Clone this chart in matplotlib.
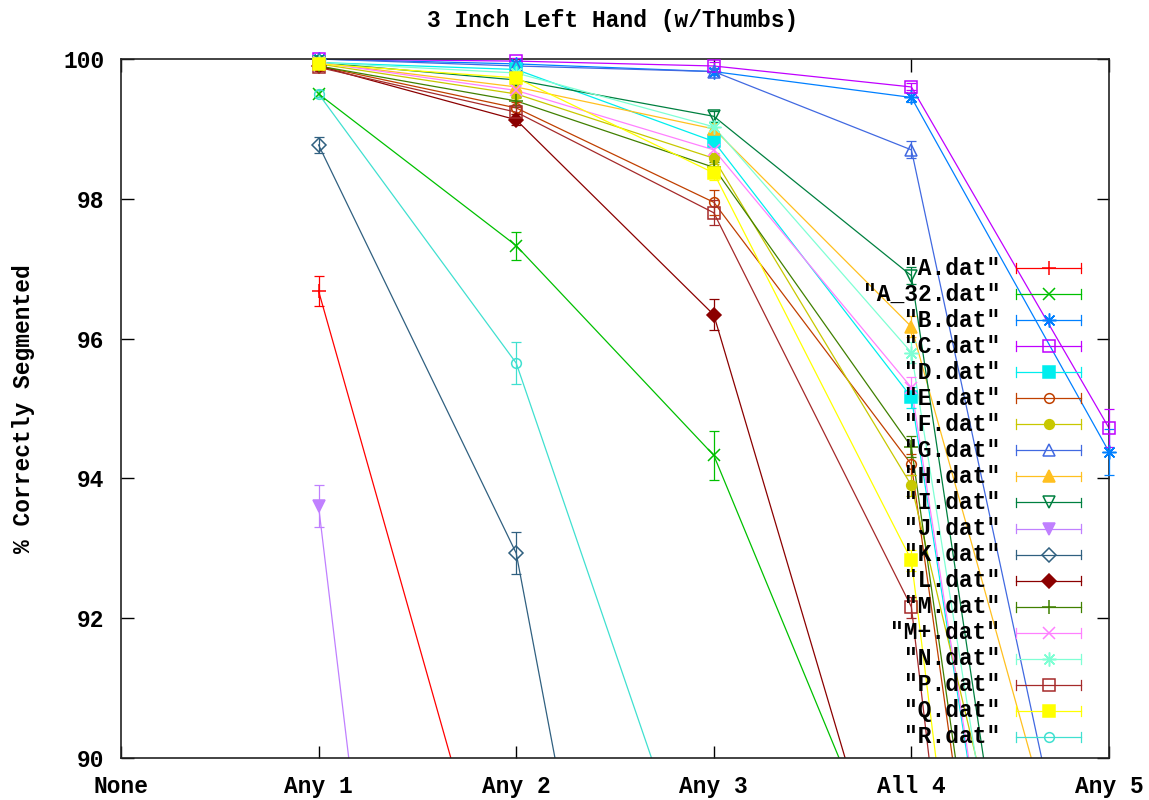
import numpy as np
import matplotlib
matplotlib.use("Agg")
import matplotlib.pyplot as plt

categories = ["None", "Any 1", "Any 2", "Any 3", "All 4", "Any 5"]
x_pos = [1, 2, 3, 4, 5]

names = ['"A.dat"', '"A_32.dat"', '"B.dat"', '"C.dat"', '"D.dat"', '"E.dat"',
         '"F.dat"', '"G.dat"', '"H.dat"', '"I.dat"', '"J.dat"', '"K.dat"',
         '"L.dat"', '"M.dat"', '"M+.dat"', '"N.dat"', '"P.dat"', '"Q.dat"', '"R.dat"']

A    = [96.68, 86.70, 75.00, 62.00, 50.00]
A_32 = [99.50, 97.33, 94.33, 87.50, 78.00]
B    = [100.0, 99.93, 99.82, 99.45, 94.38]
C    = [100.0, 99.97, 99.90, 99.60, 94.72]
D    = [99.95, 99.85, 98.82, 95.16, 77.00]
E    = [99.90, 99.30, 97.95, 94.20, 74.00]
F    = [99.93, 99.50, 98.58, 93.90, 82.00]
G    = [100.0, 99.90, 99.82, 98.70, 85.50]
H    = [99.95, 99.60, 99.00, 96.17, 86.00]
I    = [99.95, 99.70, 99.18, 96.90, 78.00]
J    = [93.60, 70.00, 55.00, 45.00, 35.00]
K    = [98.77, 92.93, 78.00, 65.00, 55.00]
L    = [99.90, 99.13, 96.34, 86.80, 75.00]
M    = [99.90, 99.40, 98.45, 94.45, 74.50]
Mp   = [99.95, 99.55, 98.70, 95.30, 77.00]
N    = [99.95, 99.80, 99.03, 95.80, 78.00]
P    = [99.88, 99.24, 97.80, 92.16, 68.00]
Q    = [99.93, 99.73, 98.37, 92.83, 70.00]
R    = [99.50, 95.65, 87.40, 75.00, 65.00]

A_err    = [0.22, 0.3, 0.3, 0.3, 0.3]
A_32_err = [0.05, 0.20, 0.35, 0.3, 0.3]
B_err    = [0.03, 0.04, 0.05, 0.06, 0.33]
C_err    = [0.03, 0.04, 0.05, 0.05, 0.27]
D_err    = [0.04, 0.05, 0.08, 0.15, 0.3]
E_err    = [0.05, 0.08, 0.18, 0.15, 0.3]
F_err    = [0.04, 0.06, 0.08, 0.15, 0.3]
G_err    = [0.05, 0.04, 0.05, 0.12, 0.3]
H_err    = [0.04, 0.06, 0.08, 0.15, 0.3]
I_err    = [0.04, 0.06, 0.08, 0.12, 0.3]
J_err    = [0.30, 0.3, 0.3, 0.3, 0.3]
K_err    = [0.12, 0.30, 0.3, 0.3, 0.3]
L_err    = [0.05, 0.08, 0.22, 0.3, 0.3]
M_err    = [0.04, 0.06, 0.08, 0.15, 0.3]
Mp_err   = [0.04, 0.06, 0.08, 0.15, 0.3]
N_err    = [0.04, 0.05, 0.08, 0.15, 0.3]
P_err    = [0.05, 0.08, 0.18, 0.15, 0.3]
Q_err    = [0.04, 0.06, 0.10, 0.15, 0.3]
R_err    = [0.05, 0.30, 0.3, 0.3, 0.3]

series = [A, A_32, B, C, D, E, F, G, H, I, J, K, L, M, Mp, N, P, Q, R]
errors = [A_err, A_32_err, B_err, C_err, D_err, E_err, F_err, G_err, H_err, I_err,
          J_err, K_err, L_err, M_err, Mp_err, N_err, P_err, Q_err, R_err]

colors = ["#ff0000", "#00c000", "#0080ff", "#c000ff", "#00eeee", "#c04000",
          "#c8c800", "#4169e1", "#ffc020", "#008040", "#c080ff", "#306080",
          "#8b0000", "#408000", "#ff80ff", "#7fffd4", "#a52a2a", "#ffff00", "#40e0d0"]

star = (8, 2, 0)
# (marker, filled)
mstyles = [("+", True), ("x", True), (star, True), ("s", False), ("s", True),
           ("o", False), ("o", True), ("^", False), ("^", True), ("v", False),
           ("v", True), ("D", False), ("D", True), ("+", True), ("x", True),
           (star, True), ("s", False), ("s", True), ("o", False)]
msizes = {"+": 10, "x": 9, "s": 8, "o": 7, "^": 8, "v": 8, "D": 7}

FONT = dict(family="Liberation Mono", weight="bold", size=16.5)

fig = plt.figure(figsize=(11.49, 8.0), dpi=100)
ax = fig.add_axes([121/1149, 42/800, 988/1149, 699/800])

for ys, es, col, (mk, filled) in zip(series, errors, colors, mstyles):
    xs = np.array(x_pos, dtype=float)
    ys = np.array(ys)
    es = np.array(es)
    ax.plot(xs, ys, color=col, lw=0.9, zorder=2)
    mask = (ys >= 90) & (ys <= 100.01)
    ms = msizes.get(mk, 10) if isinstance(mk, str) else 10
    cont = ax.errorbar(xs[mask], ys[mask], yerr=es[mask], fmt="none", ecolor=col,
                       elinewidth=0.9, capsize=3.5, capthick=0.9, zorder=3)
    for art in cont.lines[1] + cont.lines[2]:
        art.set_clip_on(False)
    ax.plot(xs[mask], ys[mask], linestyle="none", marker=mk, color=col,
            markersize=ms, markeredgewidth=1.1,
            markerfacecolor=col if filled else "none",
            markeredgecolor=col, clip_on=False, zorder=4)

# gnuplot-style key
tx = 0.89
lx0, lx1, lmx = 0.906, 0.972, 0.939
y0 = 0.701
dy = 26.05 / 699
for i, (nm, col, (mk, filled)) in enumerate(zip(names, colors, mstyles)):
    yy = y0 - i * dy
    ax.text(tx, yy, nm, transform=ax.transAxes, ha="right", va="center",
            zorder=6, **FONT)
    ax.plot([lx0, lx1], [yy, yy], transform=ax.transAxes, color=col, lw=0.9,
            zorder=5)
    for xe in (lx0, lx1):
        ax.plot([xe, xe], [yy - 0.007, yy + 0.007], transform=ax.transAxes,
                color=col, lw=0.9, zorder=5)
    ms = msizes.get(mk, 10) if isinstance(mk, str) else 10
    ax.plot([lmx], [yy], transform=ax.transAxes, linestyle="none", marker=mk,
            color=col, markersize=ms, markeredgewidth=1.1,
            markerfacecolor=col if filled else "none", markeredgecolor=col,
            zorder=5)

ax.set_xlim(0, 5)
ax.set_ylim(90, 100)
ax.set_xticks(range(len(categories)))
ax.set_xticklabels(categories)
ax.set_yticks([90, 92, 94, 96, 98, 100])
ax.tick_params(direction="in", length=9, width=1.0, top=True, right=True,
               pad=12, colors="black")
for lab in ax.get_xticklabels() + ax.get_yticklabels():
    lab.set_fontfamily(FONT["family"])
    lab.set_fontweight(FONT["weight"])
    lab.set_fontsize(FONT["size"])
for sp in ax.spines.values():
    sp.set_linewidth(1.2)
    sp.set_color("#222222")

ax.set_ylabel("% Correctly Segmented", **FONT)
ax.yaxis.label.set_va("center")
ax.yaxis.set_label_coords(-0.099, 0.5)
fig.text(0.5336, 1 - 20/800, "3 Inch Left Hand (w/Thumbs)", ha="center",
         va="center", **FONT)

fig.savefig("out.png", dpi=100)
